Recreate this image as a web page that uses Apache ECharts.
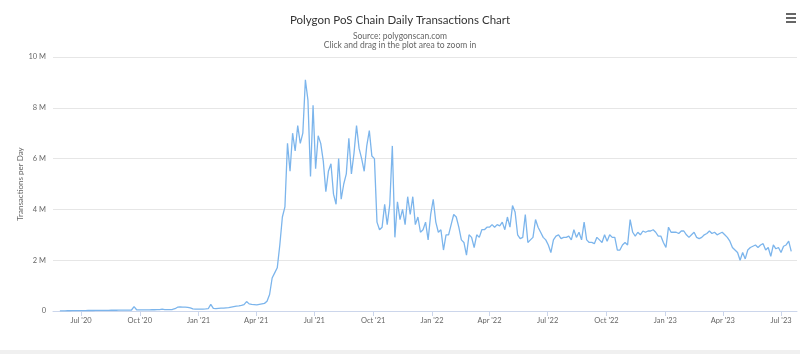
<!DOCTYPE html>
<html>
<head>
<meta charset="utf-8">
<script src="https://cdn.jsdelivr.net/npm/echarts@6/dist/echarts.min.js"></script>
<style>
html,body{margin:0;padding:0;background:#fff}
#chart{width:800px;height:354px}
</style>
</head>
<body>
<div id="chart"></div>
<script>
// daily transactions, millions, read every 4 days starting 2020-05-29
var startDate = Date.UTC(2020, 4, 29);
var stepDays = 4;

var tx2020 = [0.005, 0.006, 0.008, 0.01, 0.01, 0.012, 0.012, 0.015, 0.015, 0.016,
  0.018, 0.02, 0.02, 0.02, 0.022, 0.022, 0.025, 0.025, 0.028, 0.028,
  0.03, 0.03, 0.03, 0.032, 0.032, 0.035, 0.035, 0.038, 0.04, 0.17,
  0.05, 0.045, 0.045, 0.045, 0.045, 0.048, 0.05, 0.05, 0.052, 0.055,
  0.07, 0.055, 0.055, 0.058, 0.06, 0.09, 0.15, 0.16, 0.155, 0.15,
  0.145, 0.12, 0.08, 0.07, 0.07];

var tx2021 = [0.075, 0.075, 0.08, 0.09, 0.26,
  0.1, 0.09, 0.1, 0.11, 0.11, 0.12, 0.13, 0.15, 0.17, 0.19,
  0.2, 0.22, 0.25, 0.37, 0.28, 0.26, 0.25, 0.24, 0.26, 0.28,
  0.3, 0.38, 0.65, 1.3, 1.5, 1.7, 2.6, 3.7, 4.1, 6.6,
  5.5, 7.0, 6.3, 7.3, 6.6, 7.0, 9.1, 8.3, 5.3, 8.1,
  5.6, 6.9, 6.6, 5.9, 4.7, 5.5, 5.8, 4.6, 4.2, 6.0,
  4.4, 5.0, 5.4, 6.8, 5.4, 6.2, 7.3, 6.4, 6.0, 5.5,
  6.5, 7.1, 6.1, 6.0, 3.5, 3.2, 3.3, 4.2, 3.4, 4.2,
  6.5, 2.9, 4.3, 3.6, 4.0, 3.4, 4.5, 3.8, 4.5, 3.4,
  3.7, 3.1, 3.2, 3.5, 2.8, 3.8];

var tx2022 = [4.4, 3.5, 3.1, 3.2,
  2.4, 3.0, 3.0, 3.4, 3.8, 3.7, 3.3, 2.8, 2.7, 2.2,
  3.0, 2.9, 2.5, 3.0, 2.9, 3.2, 3.2, 3.3, 3.3, 3.4,
  3.3, 3.4, 3.35, 3.5, 3.2, 3.7, 3.3, 4.15, 3.9, 3.0,
  2.85, 2.9, 3.8, 2.7, 2.8, 2.9, 3.6, 3.3, 3.1, 2.9,
  2.8, 2.6, 2.3, 2.8, 2.95, 3.0, 2.85, 2.9, 2.9, 2.95,
  2.8, 3.2, 2.9, 3.1, 2.8, 3.5, 2.8, 2.7, 2.7, 2.65,
  2.9, 2.8, 2.7, 3.0, 2.75, 3.0, 2.9, 2.9, 2.4, 2.4,
  2.6, 2.7, 2.6, 3.6, 3.1, 2.95, 3.1, 3.0, 3.15, 3.1,
  3.15, 3.15, 3.2, 3.1, 2.95, 2.95, 2.7];

var tx2023 = [2.5, 3.3, 3.1,
  3.1, 3.1, 3.05, 3.15, 3.15, 3.0, 2.9, 3.0, 3.1, 2.9,
  2.85, 2.9, 3.0, 3.05, 3.15, 3.05, 3.1, 3.0, 3.05, 3.1,
  3.0, 2.9, 2.75, 2.5, 2.4, 2.3, 2.0, 2.3, 2.05, 2.4,
  2.5, 2.55, 2.6, 2.5, 2.6, 2.65, 2.4, 2.5, 2.15, 2.6,
  2.45, 2.5, 2.3, 2.55, 2.6, 2.75, 2.35];

var monthNames = ['Jan', 'Feb', 'Mar', 'Apr', 'May', 'Jun', 'Jul', 'Aug', 'Sep', 'Oct', 'Nov', 'Dec'];
var yTicks = [0, 2, 4, 6, 8, 10];

var DAY = 86400000;
var font = "Lato, 'Liberation Sans', sans-serif";

var allTx = tx2020.concat(tx2021, tx2022, tx2023);
var lineData = [];
for (var i = 0; i < allTx.length; i++) {
  lineData.push([startDate + i * stepDays * DAY, allTx[i]]);
}

var chart = echarts.init(document.getElementById('chart'));

var option = {
  useUTC: true,
  animation: false,
  backgroundColor: '#ffffff',
  title: {
    text: 'Polygon PoS Chain Daily Transactions Chart',
    subtext: 'Source: polygonscan.com\nClick and drag in the plot area to zoom in',
    left: 'center',
    top: 8,
    itemGap: 5,
    textStyle: {fontFamily: font, fontSize: 11.5, lineHeight: 14, fontWeight: 'normal', color: '#333333'},
    subtextStyle: {fontFamily: font, fontSize: 8.5, color: '#666666', lineHeight: 9}
  },
  grid: {left: 53, right: 3, top: 57, bottom: 43},
  xAxis: {
    type: 'time',
    min: Date.UTC(2020, 4, 18, 5),
    max: Date.UTC(2023, 6, 26),
    splitNumber: 12,
    minInterval: 85 * DAY,
    maxInterval: 100 * DAY,
    axisLine: {lineStyle: {color: '#ccd6eb', width: 1}},
    axisTick: {show: true, length: 5, lineStyle: {color: '#ccd6eb'}},
    splitLine: {show: false},
    axisLabel: {
      fontFamily: font,
      fontSize: 7.5,
      color: '#666666',
      margin: 6,
      showMinLabel: false,
      showMaxLabel: false,
      formatter: function (v) {
        var d = new Date(v);
        var m = d.getUTCMonth();
        if (d.getUTCDate() !== 1 || m % 3 !== 0) return '';
        return monthNames[m] + " '" + String(d.getUTCFullYear()).slice(2);
      }
    }
  },
  yAxis: {
    type: 'value',
    min: yTicks[0],
    max: yTicks[yTicks.length - 1],
    interval: 2,
    name: 'Transactions per Day',
    nameLocation: 'middle',
    nameGap: 29,
    nameMoveOverlap: false,
    nameTextStyle: {fontFamily: font, fontSize: 8, color: '#666666'},
    axisLine: {show: false},
    axisTick: {show: false},
    splitLine: {lineStyle: {color: '#e6e6e6', width: 1}},
    axisLabel: {
      fontFamily: font,
      fontSize: 7.5,
      color: '#666666',
      margin: 7,
      formatter: function (v) { return v === 0 ? '0' : v + ' M'; }
    }
  },
  series: [{
    name: 'Transactions',
    type: 'line',
    data: lineData,
    showSymbol: false,
    lineStyle: {color: '#7cb5ec', width: 1.3},
    itemStyle: {color: '#7cb5ec'}
  }],
  graphic: [
    {type: 'rect', shape: {x: 786, y: 13, width: 10, height: 2}, style: {fill: '#666666'}},
    {type: 'rect', shape: {x: 786, y: 17, width: 10, height: 2}, style: {fill: '#666666'}},
    {type: 'rect', shape: {x: 786, y: 21, width: 10, height: 2}, style: {fill: '#666666'}},
    {type: 'rect', shape: {x: 0, y: 350, width: 800, height: 4}, style: {fill: '#f0f0f0'}}
  ]
};

chart.setOption(option);
</script>
</body>
</html>
